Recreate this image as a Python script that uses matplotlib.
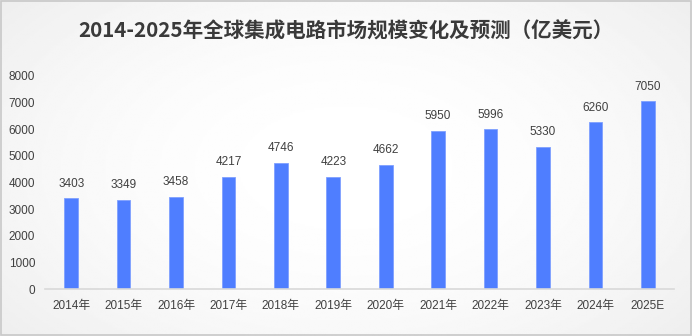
import numpy as np
import matplotlib
matplotlib.use("Agg")
import matplotlib.pyplot as plt

plt.rcParams["font.family"] = ["Noto Sans CJK SC", "DejaVu Sans"]
num_font = ["Liberation Sans", "Noto Sans CJK SC"]

years  = ["2014年", "2015年", "2016年", "2017年", "2018年", "2019年",
          "2020年", "2021年", "2022年", "2023年", "2024年", "2025E"]
values = [3403, 3349, 3458, 4217, 4746, 4223, 4662, 5950, 5996, 5330, 6260, 7050]
yticks = [0, 1000, 2000, 3000, 4000, 5000, 6000, 7000, 8000]

W, H = 692, 336
fig = plt.figure(figsize=(W / 100, H / 100), dpi=100)

# ── Radial-ish background gradient ────────────────────────────────────────
bg = fig.add_axes([0, 0, 1, 1])
yy, xx = np.mgrid[0:1:200j, 0:1:400j]
d = np.sqrt(((xx - 0.5) / 0.75) ** 2 + ((yy - 0.5) / 0.9) ** 2)
shade = 1.0 - 0.09 * np.clip(d, 0, 1) ** 2
bg.imshow(shade, cmap="gray", vmin=0, vmax=1, aspect="auto", extent=[0, 1, 0, 1])
bg.add_patch(plt.Rectangle((0.001, 0.002), 0.997, 0.995, fill=False,
                           edgecolor="#c8c8c8", linewidth=1.2))
bg.set_xlim(0, 1)
bg.set_ylim(0, 1)
bg.axis("off")

ax = fig.add_axes([45 / W, (H - 289) / H, 629 / W, 213 / H])
ax.patch.set_alpha(0)

x = np.arange(len(years))
bars = ax.bar(x, values, width=0.26, color="#4f7eff", edgecolor="#7fa0ff",
              linewidth=0.6, zorder=2)

for xi, v in zip(x, values):
    ax.text(xi, v + 330, f"{v}", ha="center", va="bottom",
            fontsize=8.5, color="#404040", family=num_font)

ax.set_xlim(-0.5, len(years) - 0.5)
ax.set_ylim(0, 8000)
ax.set_yticks(yticks)
ax.set_yticklabels([str(t) for t in yticks], fontsize=8.5, color="#404040",
                   family=num_font)
ax.set_xticks(x)
ax.set_xticklabels(years, fontsize=8.5, color="#404040", family=num_font)
ax.tick_params(axis="both", length=0)
ax.tick_params(axis="y", pad=7)
ax.tick_params(axis="x", pad=8)

for side in ["top", "right", "left"]:
    ax.spines[side].set_visible(False)
ax.spines["bottom"].set_color("#d9d9d9")
ax.spines["bottom"].set_linewidth(1.2)

fig.text(0.5, (H - 31) / H, "2014-2025年全球集成电路市场规模变化及预测（亿美元）",
         ha="center", va="center", fontsize=14.8, fontweight="bold", color="#3a3a3a")

fig.savefig("out.png", dpi=100)
